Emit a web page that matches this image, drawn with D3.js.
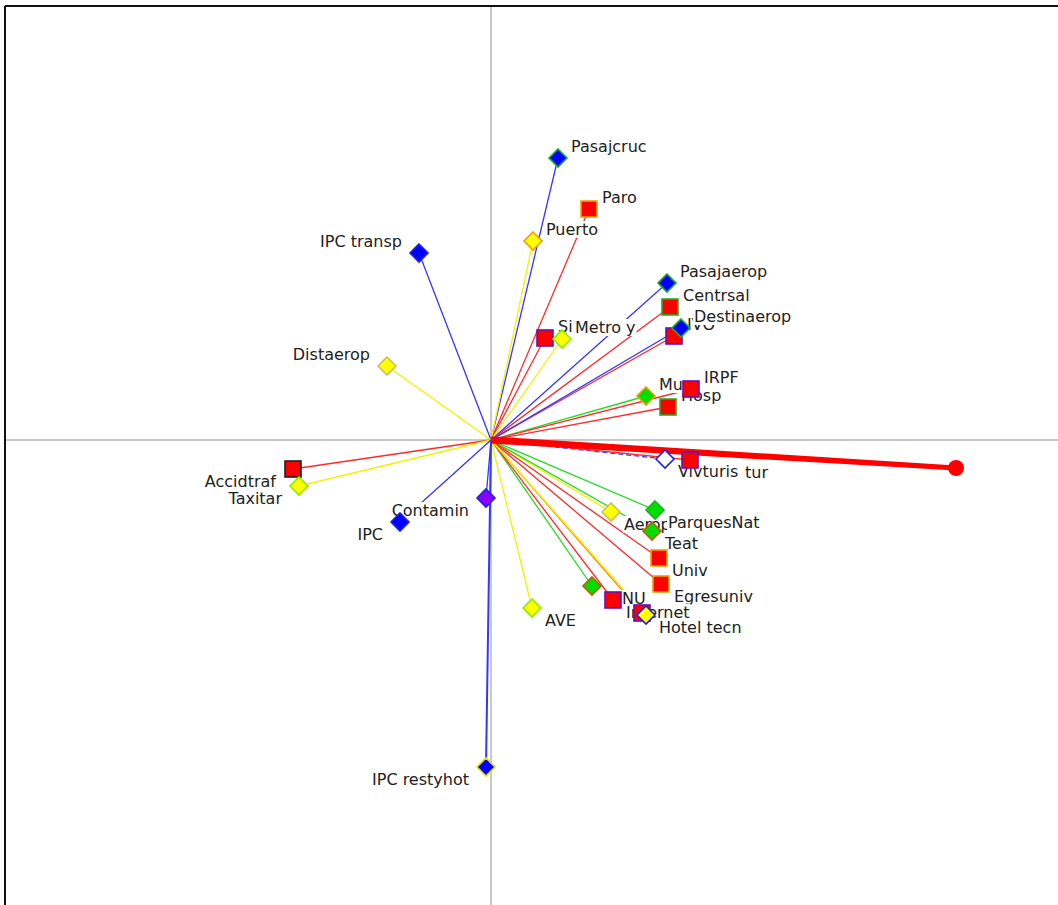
<!DOCTYPE html>
<html>
<head>
<meta charset="utf-8">
<script src="https://cdn.jsdelivr.net/npm/d3@7"></script>
<style>
  html, body { margin: 0; padding: 0; background: #fff; }
  svg { display: block; }
</style>
</head>
<body>
<svg id="chart" width="1058" height="905"></svg>
<script>
// Variables of the biplot, in drawing order (later ones sit on top)
const varNames = [
  "Pasajcruc", "Paro", "Puerto", "IPC transp", "Pasajaerop", "Centrsal",
  "IVO", "Destinaerop", "Si", "Metro y", "Distaerop", "Hosp", "Mu", "IRPF",
  "Accidtraf", "Taxitar", "Vivturis", "tur", "Contamin", "IPC", "Aerop",
  "ParquesNat", "Teat", "Univ", "Egresuniv", "AVE", "NU", "Internet",
  "Hotel", "Hotel tecn", "IPC restyhot"
];
// Coordinates on the first factorial axis
const dim1 = [
  0.268, 0.392, 0.168, -0.288, 0.704, 0.716,
  0.732, 0.760, 0.216, 0.284, -0.416, 0.708, 0.620, 0.800,
  -0.792, -0.768, 0.696, 0.796, -0.020, -0.364, 0.480,
  0.656, 0.644, 0.672, 0.680, 0.164, 0.404, 0.488,
  0.604, 0.620, -0.020
];
// Coordinates on the second factorial axis
const dim2 = [
  1.128, 0.924, 0.796, 0.748, 0.628, 0.532,
  0.416, 0.448, 0.408, 0.404, 0.296, 0.132, 0.176, 0.204,
  -0.116, -0.184, -0.076, -0.080, -0.232, -0.328, -0.288,
  -0.280, -0.364, -0.472, -0.576, -0.672, -0.584, -0.640,
  -0.692, -0.700, -1.308
];
// Dependent vector (thick arrow ending in a dot)
const mainVector = [1.860, -0.112];

// ---- styling ----
const C = {
  blue: "#0000ff", red: "#ff0000", yellow: "#ffff00", green: "#00dd00",
  white: "#ffffff", violet: "#8a00ff",
  sGreen: "#1fb01f", sOrange: "#f0a000", sPurple: "#6a10b0", sKhaki: "#c8c060",
  sBrown: "#b86000", sBlack: "#202020", sLime: "#88ee00", sBlue: "#2020e0",
  lBlue: "#3535ff", lRed: "#ff2a2a", lYellow: "#f2f200", lGreen: "#22dd22"
};
// shape, fill, outline, line colour, dashed line
const markerStyle = {
  "Pasajcruc":   ["d", C.blue,   C.sGreen,  C.lBlue],
  "Paro":        ["s", C.red,    C.sOrange, C.lRed],
  "Puerto":      ["d", C.yellow, C.sOrange, C.lYellow],
  "IPC transp":  ["d", C.blue,   C.sBlue,   C.lBlue],
  "Pasajaerop":  ["d", C.blue,   C.sGreen,  C.lBlue],
  "Centrsal":    ["s", C.red,    C.sGreen,  C.lRed],
  "IVO":         ["s", C.red,    C.sPurple, C.lRed],
  "Destinaerop": ["d", C.blue,   C.sGreen,  C.lBlue],
  "Si":          ["s", C.red,    C.sPurple, C.lRed],
  "Metro y":     ["d", C.yellow, C.sLime,   C.lYellow],
  "Distaerop":   ["d", C.yellow, C.sKhaki,  C.lYellow],
  "Hosp":        ["s", C.red,    C.sGreen,  C.lRed],
  "Mu":          ["d", C.green,  C.sOrange, C.lGreen],
  "IRPF":        ["s", C.red,    C.sPurple, C.lRed],
  "Accidtraf":   ["s", C.red,    C.sBlack,  C.lRed],
  "Taxitar":     ["d", C.yellow, C.sLime,   C.lYellow],
  "Vivturis":    ["d", C.white,  C.sBlue,   C.lBlue, true],
  "tur":         ["s", C.red,    C.sPurple, C.lRed],
  "Contamin":    ["d", C.violet, C.sBlue,   C.lBlue],
  "IPC":         ["d", C.blue,   C.sBlue,   C.lBlue],
  "Aerop":       ["d", C.yellow, C.sKhaki,  C.lYellow],
  "ParquesNat":  ["d", C.green,  C.sGreen,  C.lGreen],
  "Teat":        ["d", C.green,  C.sBrown,  C.lGreen],
  "Univ":        ["s", C.red,    C.sOrange, C.lRed],
  "Egresuniv":   ["s", C.red,    C.sOrange, C.lRed],
  "AVE":         ["d", C.yellow, C.sLime,   C.lYellow],
  "NU":          ["d", C.green,  C.sBrown,  C.lGreen],
  "Internet":    ["s", C.red,    C.sPurple, C.lRed],
  "Hotel":       ["s", C.red,    C.sPurple, "#ff8a00"],
  "Hotel tecn":  ["d", C.yellow, C.sBlue,   C.lYellow],
  "IPC restyhot":["d", C.blue,   "#e0e000", C.lBlue]
};
// labels that are not printed, and labels pushed sideways
const hiddenLabels = new Set(["Hotel"]);
const labelShift = { "NU": 17, "tur": 42 };

const W = 1058, H = 905;
const svg = d3.select("#chart");

const x = d3.scaleLinear().domain([-2, 2.3]).range([-9, 1066]);
const y = d3.scaleLinear().domain([-1.9, 1.8]).range([915, -10]);
const x0 = x(0), y0 = y(0);

// frame (top and left edges)
svg.append("line").attr("x1", 5).attr("x2", W).attr("y1", 6).attr("y2", 6)
  .attr("stroke", "#111").attr("stroke-width", 2);
svg.append("line").attr("x1", 5).attr("x2", 5).attr("y1", 6).attr("y2", H)
  .attr("stroke", "#111").attr("stroke-width", 2);

// axes through the origin
svg.append("line").attr("x1", 6).attr("x2", W).attr("y1", y0).attr("y2", y0)
  .attr("stroke", "#c9c9c9").attr("stroke-width", 2);
svg.append("line").attr("x1", x0).attr("x2", x0).attr("y1", 7).attr("y2", H)
  .attr("stroke", "#c9c9c9").attr("stroke-width", 2);

const items = varNames.map((n, i) => ({ name: n, v1: dim1[i], v2: dim2[i], st: markerStyle[n] }));

// vectors from the origin
const gLines = svg.append("g");
gLines.selectAll("line").data(items).join("line")
  .attr("x1", x0).attr("y1", y0)
  .attr("x2", d => x(d.v1)).attr("y2", d => y(d.v2))
  .attr("stroke", d => d.st[3])
  .attr("stroke-width", d => d.name === "IPC restyhot" ? 2 : 1.3)
  .attr("stroke-dasharray", d => d.st[4] ? "5,3" : null);

// thick dependent vector, slightly tapering towards its end
const mx = x(mainVector[0]), my = y(mainVector[1]);
const len = Math.hypot(mx - x0, my - y0);
const nx = -(my - y0) / len, ny = (mx - x0) / len;
const w0 = 3.6, w1 = 2.5;
svg.append("path")
  .attr("d", `M${x0 + nx * w0},${y0 + ny * w0}L${mx + nx * w1},${my + ny * w1}` +
             `L${mx - nx * w1},${my - ny * w1}L${x0 - nx * w0},${y0 - ny * w0}Z`)
  .attr("fill", "#ff0000");
svg.append("circle")
  .attr("cx", mx).attr("cy", my).attr("r", 8)
  .attr("fill", "#ff0000");

// markers and labels
const diamond = r => `M0,${-r}L${r},0L0,${r}L${-r},0Z`;
const gPts = svg.append("g")
  .style("font-family", "'DejaVu Sans', Verdana, sans-serif")
  .style("font-size", "16px");

items.forEach(d => {
  const px = x(d.v1), py = y(d.v2);
  const g = gPts.append("g");
  if (d.st[0] === "d") {
    g.append("path").attr("d", diamond(9)).attr("transform", `translate(${px},${py})`)
      .attr("fill", d.st[1]).attr("stroke", d.st[2]).attr("stroke-width", 1.6);
  } else {
    g.append("rect").attr("x", px - 8).attr("y", py - 8).attr("width", 16).attr("height", 16)
      .attr("fill", d.st[1]).attr("stroke", d.st[2]).attr("stroke-width", 1.6);
  }
  if (hiddenLabels.has(d.name)) return;
  const right = d.v1 >= 0, up = d.v2 >= 0;
  const lx = px + (right ? 13 : -17) + (labelShift[d.name] || 0);
  const ly = py + (up ? -6 : 18);
  const bg = g.append("rect").attr("fill", "#fff");
  const t = g.append("text")
    .attr("x", lx).attr("y", ly)
    .attr("text-anchor", right ? "start" : "end")
    .attr("fill", "#222")
    .text(d.name);
  const bb = t.node().getBBox();
  bg.attr("x", bb.x - 1).attr("y", bb.y + 1).attr("width", bb.width + 2).attr("height", bb.height - 2);
});
</script>
</body>
</html>
